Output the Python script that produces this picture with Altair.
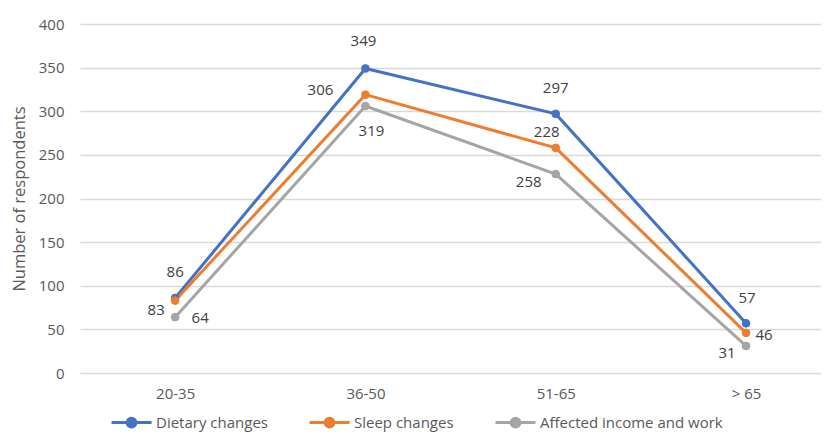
import altair as alt
import pandas as pd

categories = ["20-35", "36-50", "51-65", "> 65"]
series_names = ["Dietary changes", "Sleep changes", "Affected income and work"]
dietary = [86, 349, 297, 57]
sleep = [83, 319, 258, 46]
affected = [64, 306, 228, 31]
dietary_labels = ["86", "349", "297", "57"]
sleep_labels = ["83", "306", "228", "46"]
affected_labels = ["64", "319", "258", "31"]
colors = ["#4472C4", "#ED7D31", "#A5A5A5"]

rows = []
for name, vals, labs in zip(series_names, [dietary, sleep, affected],
                            [dietary_labels, sleep_labels, affected_labels]):
    for i, (c, v, l) in enumerate(zip(categories, vals, labs)):
        rows.append({"age": c, "series": name, "value": v, "label": l, "idx": i})
df = pd.DataFrame(rows)

# label offsets (style): per series, per category
offsets = {
    "Dietary changes": [(0, -26), (-2, -27), (0, -26), (1, -25)],
    "Sleep changes": [(-19, 9), (-45, -5), (-9, -16), (18, 2)],
    "Affected income and work": [(25, 1), (6, 25), (-27, 8), (-19, 7)],
}

FONT = "Open Sans"
GREY_TXT = "#595959"
label_expr = "[" + ",".join(f"'{c}'" for c in categories) + "][datum.value]"

x_scale = alt.Scale(domain=[-0.5, 3.394], nice=False, zero=False)
x_enc = alt.X("idx:Q", title=None, scale=x_scale,
              axis=alt.Axis(values=[0, 1, 2, 3], labelExpr=label_expr, grid=False,
                            ticks=False, domain=False, labelPadding=13,
                            labelFontSize=15, labelColor=GREY_TXT, labelFont=FONT))
y_enc = alt.Y("value:Q", title="Number of respondents",
              scale=alt.Scale(domain=[0, 400], nice=False),
              axis=alt.Axis(values=list(range(0, 401, 50)), ticks=False, domain=False,
                            gridColor="#D9D9D9", gridWidth=1.3, labelPadding=16,
                            labelFontSize=15, labelColor=GREY_TXT, labelFont=FONT,
                            titleFontSize=16.5, titleColor=GREY_TXT, titleFont=FONT,
                            titleFontWeight="normal", titlePadding=11))
legend = alt.Legend(title=None, orient="none", direction="horizontal",
                    legendX=30, legendY=377,
                    symbolType="M-1,0H1M-0.22,0A0.22,0.22 0 1,1 0.22,0A0.22,0.22 0 1,1 -0.22,0",
                    symbolSize=1600, symbolStrokeWidth=3,
                    labelFontSize=15, labelColor=GREY_TXT, labelFont=FONT,
                    labelOffset=3, columnPadding=35, labelLimit=300)
color_scale = alt.Scale(domain=series_names, range=colors)
stroke_enc = alt.Stroke("series:N", sort=series_names, scale=color_scale, legend=legend)
fill_enc = alt.Fill("series:N", sort=series_names, scale=color_scale, legend=legend)

base = alt.Chart(df)
lines = base.mark_line(strokeWidth=3).encode(x=x_enc, y=y_enc, stroke=stroke_enc,
                                               detail="series:N")
points = base.mark_circle(size=60, opacity=1, strokeWidth=1).encode(
    x=x_enc, y=y_enc, fill=fill_enc, stroke=stroke_enc)

layers = [lines, points]
for name in series_names:
    for i, (dx, dy) in enumerate(offsets[name]):
        t = base.transform_filter(
            (alt.datum.series == name) & (alt.datum.idx == i)
        ).mark_text(dx=dx, dy=dy, fontSize=15, color="#404040", font=FONT,
                    baseline="middle", align="center").encode(
            x=alt.X("idx:Q", scale=x_scale), y=alt.Y("value:Q"), text="label:N")
        layers.append(t)

chart = alt.layer(*layers).properties(
    width=741, height=349,
    autosize=alt.AutoSizeParams(type="none"),
    padding={"left": 72, "top": 16, "right": 0, "bottom": 64},
).configure_view(stroke=None)

chart.save("out.html", embed_options={"renderer": "svg", "actions": False})
